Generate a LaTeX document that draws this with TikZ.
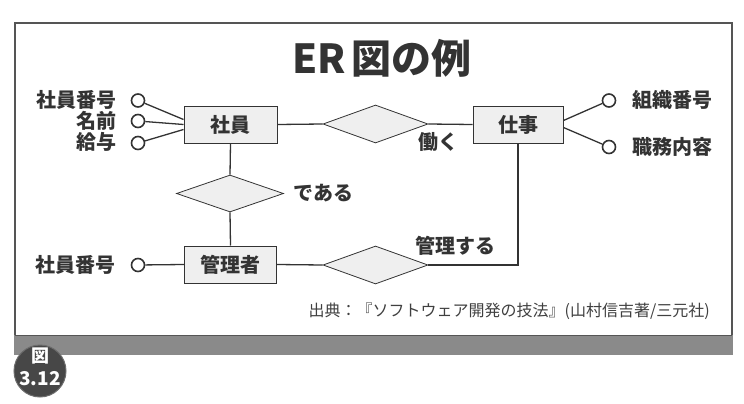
\documentclass[tikz,border=0pt]{standalone}
\usepackage{fontspec}
\newfontfamily\jp{Noto Sans CJK JP}
\usetikzlibrary{shapes.geometric,calc}
\definecolor{ink}{HTML}{333333}
\definecolor{boxfill}{HTML}{EFEFEF}
\definecolor{framecol}{HTML}{555555}
\definecolor{barcol}{HTML}{8A8A8A}
\definecolor{badgecol}{HTML}{474747}
\definecolor{srccol}{HTML}{404040}
\tikzset{
  entity/.style={draw=ink, line width=1pt, fill=boxfill, minimum height=37pt, inner sep=0pt, font=\jp\bfseries\fontsize{20}{24}\selectfont, text=ink},
  relation/.style={draw=ink, line width=0.8pt, fill=boxfill, diamond, minimum width=105pt, minimum height=38pt, inner sep=0pt},
  attr/.style={draw=ink, line width=1.6pt, fill=white, circle, minimum size=13pt, inner sep=0pt},
  lbl/.style={inner sep=0pt, font=\jp\bfseries\fontsize{20}{24}\selectfont, text=ink},
  conn/.style={draw=ink, line width=1.3pt},
}
\begin{document}
\begin{tikzpicture}[x=1pt,y=-1pt]
\useasboundingbox (0,0) rectangle (744,404);
\fill[white] (0,0) rectangle (744,404);
% frame and bar
\draw[framecol, line width=1.3pt] (15,336) -- (15,23) -- (732,23) -- (732,336);
\fill[barcol] (14.4,335) rectangle (732.6,355);
\draw[framecol, line width=0.8pt] (15,335) -- (732,335);
% title
\node[inner sep=0pt, font=\jp\bfseries\fontsize{40}{46}\selectfont, text=ink] (title) at (382,58) {ER\hspace{5pt}図の例};
% entities
\node[entity, minimum width=93pt] (shain) at (230.5,124.5) {社員};
\node[entity, minimum width=90pt] (shigoto) at (518,124.5) {仕事};
\node[entity, minimum width=92pt] (kanrisha) at (230.5,264.5) {管理者};
% relations
\node[relation] (hataraku) at (375.5,124) {};
\node[relation, minimum width=107pt, minimum height=37pt] (dearu) at (230,193.5) {};
\node[relation] (kanrisuru) at (375.5,265) {};
\node[lbl, anchor=west] (lhataraku) at (418,142) {働く};
\node[lbl, anchor=west] (ldearu) at (293,193) {である};
\node[lbl, anchor=west] (lkanrisuru) at (415,246) {管理する};
% attributes
\node[attr] (a1) at (138,100.5) {};
\node[attr] (a2) at (138,121) {};
\node[attr] (a3) at (138,143) {};
\node[attr] (a4) at (138,265) {};
\node[attr] (b1) at (609,100.5) {};
\node[attr] (b2) at (609,147) {};
\node[lbl, anchor=east] (ta1) at (117,100) {社員番号};
\node[lbl, anchor=east] (ta2) at (117,121) {名前};
\node[lbl, anchor=east] (ta3) at (117,142) {給与};
\node[lbl, anchor=east] (ta4) at (116,265) {社員番号};
\node[lbl, anchor=west] (tb1) at (632,100) {組織番号};
\node[lbl, anchor=west] (tb2) at (632,147) {職務内容};
% connectors
\coordinate (sw1) at ($(shain.west)+(0,-5)$);
\coordinate (sw3) at ($(shain.west)+(0,5)$);
\coordinate (ge1) at ($(shigoto.east)+(0,-4)$);
\coordinate (ge2) at ($(shigoto.east)+(0,3)$);
\draw[conn] (a1) -- (sw1);
\draw[conn] (a2) -- (shain.west);
\draw[conn] (a3) -- (sw3);
\draw[conn] (a4) -- (kanrisha.west);
\draw[conn] (ge1) -- (b1);
\draw[conn] (ge2) -- (b2);
\draw[conn] (shain.east) -- (hataraku.west);
\draw[conn] (hataraku.east) -- (shigoto.west);
\draw[conn] (shain.south) -- (dearu.north);
\draw[conn] (dearu.south) -- (kanrisha.north);
\draw[conn] (kanrisha.east) -- (kanrisuru.west);
\draw[conn] (kanrisuru.east) -| (shigoto.south);
% source
\node[inner sep=0pt, anchor=east, font=\jp\fontsize{16}{19}\selectfont, text=srccol] (src) at (710,311) {出典：『ソフトウェア開発の技法』(山村信吉著/三元社)};
% badge
\node[circle, fill=badgecol, draw=badgecol!80!white, line width=1pt, minimum size=52pt, inner sep=0pt] (badge) at (40,371) {};
\node[inner sep=0pt, text=white, font=\jp\bfseries\fontsize{18}{20}\selectfont] (bfig) at (40,356) {図};
\node[inner sep=0pt, text=white, font=\jp\bfseries\fontsize{19}{22}\selectfont] (bnum) at (40,379) {3.12};
\end{tikzpicture}
\end{document}
